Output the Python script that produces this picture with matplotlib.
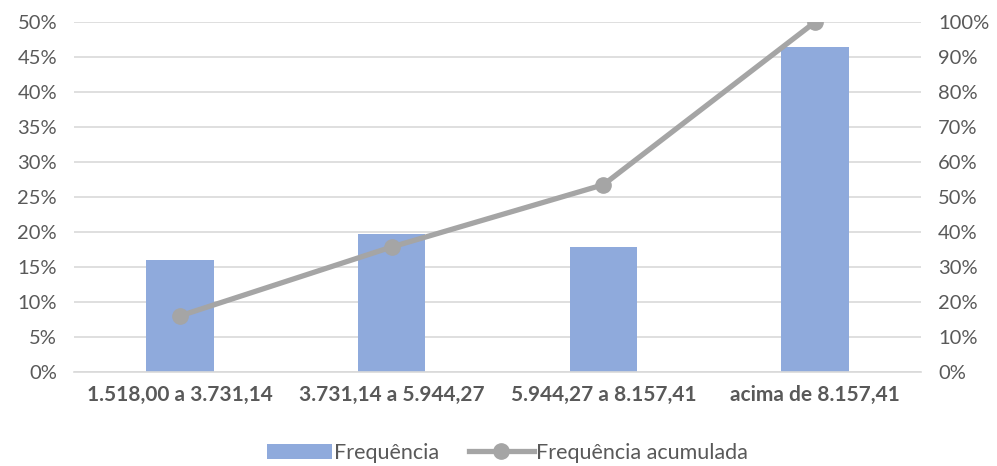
import matplotlib.pyplot as plt
from matplotlib.ticker import PercentFormatter
import numpy as np

plt.rcParams['font.family'] = ['Lato', 'DejaVu Sans']

# dados
faixas = ['1.518,00 a 3.731,14', '3.731,14 a 5.944,27',
          '5.944,27 a 8.157,41', 'acima de 8.157,41']
frequencia = [16.0, 19.7, 17.8, 46.4]
frequencia_acumulada = [16.0, 35.7, 53.5, 100.0]

cor_barra = '#8FAADC'
cor_linha = '#A5A5A5'
cor_texto = '#595959'
cor_grade = '#D9D9D9'

fig = plt.figure(figsize=(9.97, 4.66), dpi=100)
ax = fig.add_axes([0.074, 0.2017, 0.850, 0.7513])
ax2 = ax.twinx()

x = np.arange(len(faixas))
ax.bar(x, frequencia, width=0.32, color=cor_barra, label='Frequência', zorder=2)
ax2.plot(x, frequencia_acumulada, color=cor_linha, linewidth=3.8, marker='o',
         markersize=11, label='Frequência acumulada', zorder=3)

ax.set_xlim(-0.5, len(faixas) - 0.5)
ax.set_ylim(0, 50)
ax2.set_ylim(0, 100)
ax.set_yticks(np.arange(0, 51, 5))
ax2.set_yticks(np.arange(0, 101, 10))
ax.yaxis.set_major_formatter(PercentFormatter(decimals=0))
ax2.yaxis.set_major_formatter(PercentFormatter(decimals=0))

ax.set_xticks(x)
ax.set_xticklabels(faixas, fontsize=15, fontweight='bold', color=cor_texto)
ax.tick_params(axis='x', length=0, pad=9)
ax.tick_params(axis='y', length=0, labelsize=14.5, labelcolor=cor_texto, pad=12)
ax2.tick_params(axis='y', length=0, labelsize=14.5, labelcolor=cor_texto, pad=12)

ax.grid(axis='y', color=cor_grade, linewidth=1.2, zorder=0)
ax.set_axisbelow(True)
for a in (ax, ax2):
    for s in a.spines.values():
        s.set_visible(False)
ax.spines['bottom'].set_visible(True)
ax.spines['bottom'].set_color(cor_grade)
ax.spines['bottom'].set_linewidth(1.2)

ax.set_zorder(1)
ax2.set_zorder(2)
ax.patch.set_visible(False)

h1, l1 = ax.get_legend_handles_labels()
h2, l2 = ax2.get_legend_handles_labels()
fig.legend(h1 + h2, l1 + l2, loc='center', bbox_to_anchor=(0.509, 0.028),
           ncol=2, frameon=False, fontsize=15.5, labelcolor=cor_texto,
           handlelength=3.0, handletextpad=0.1, columnspacing=1.4)

plt.savefig('out.png', dpi=100)
